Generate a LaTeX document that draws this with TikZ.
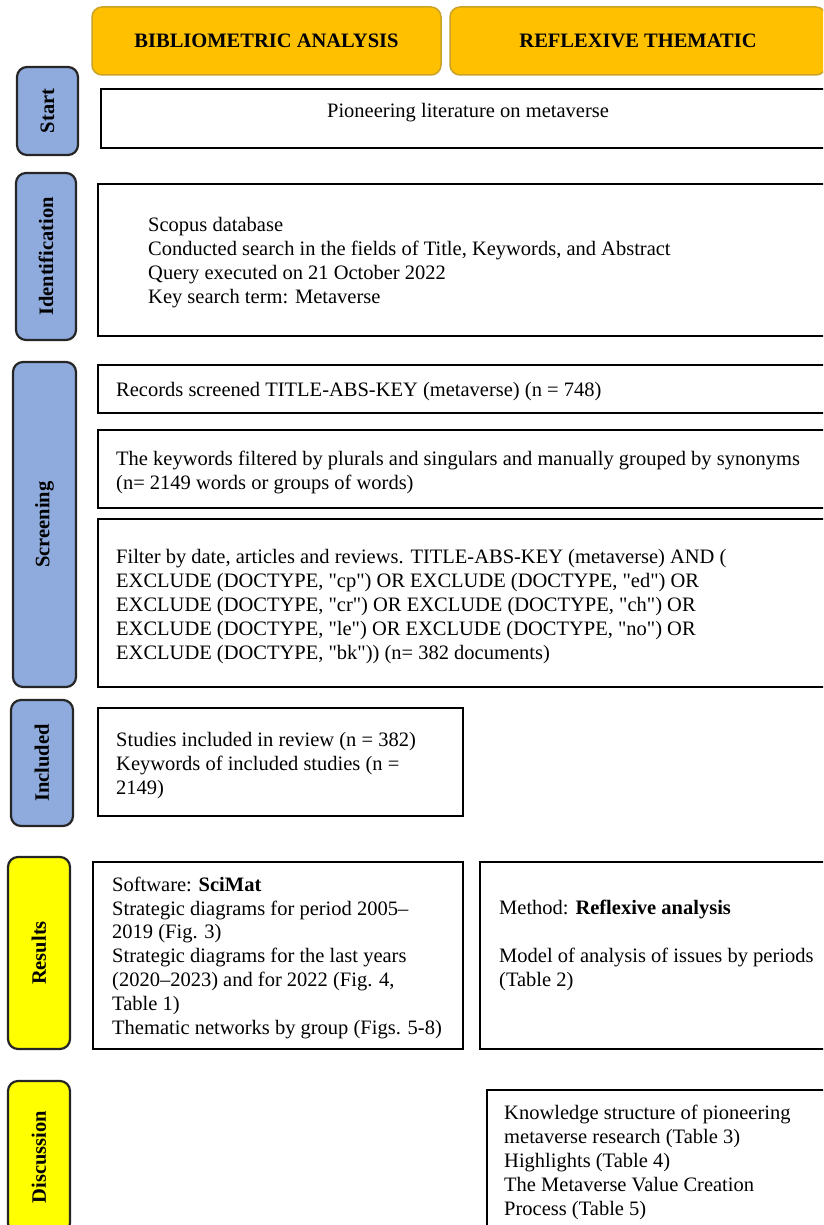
\documentclass[tikz,border=0pt]{standalone}
\usepackage{fontspec}
\setmainfont{Liberation Serif}[Ligatures=TeXOff]
\usetikzlibrary{positioning}

\definecolor{headgold}{HTML}{FFC000}
\definecolor{headedge}{HTML}{C9A227}
\definecolor{tabblue}{HTML}{8FAADC}
\definecolor{tabyellow}{HTML}{FFFF00}

\tikzset{
  head/.style={draw=headedge, fill=headgold, line width=1.5pt, rounded corners=10pt, font=\bfseries, inner sep=0pt},
  phase/.style={draw=black!85, line width=2.2pt, rounded corners=10pt, rotate=90, font=\bfseries, inner sep=0pt},
  stepbox/.style={draw=black, line width=1.8pt, inner sep=0pt},
  txt/.style={anchor=base west, align=left, inner sep=0pt}
}

\begin{document}
\fontsize{20.5}{23.8}\selectfont
\begin{tikzpicture}[x=1pt, y=-1pt]
        \clip (0,0) rectangle (823,1225);

        % Column headers
        \node[head, minimum width=349, minimum height=68] (biblio) at (266.5,41) {BIBLIOMETRIC ANALYSIS};
        \node[head, minimum width=376, minimum height=68] (reflex) at (638,41) {REFLEXIVE THEMATIC};

        % Phase tabs
        \node[phase, fill=tabblue, minimum width=88, minimum height=61] (start) at (47.5,111) {Start};
        \node[phase, fill=tabblue, minimum width=167, minimum height=60] (ident) at (46,256.5) {Identification};
        \node[phase, fill=tabblue, minimum width=325, minimum height=63] (screen) at (44.5,524.5) {Screening};
        \node[phase, fill=tabblue, minimum width=126, minimum height=62] (incl) at (42,763) {Included};
        \node[phase, fill=tabyellow, minimum width=192, minimum height=62] (results) at (39,953) {Results};
        \node[phase, fill=tabyellow, minimum width=152, minimum height=62] (discuss) at (39,1157) {Discussion};

        % Step boxes
        \node[stepbox, minimum width=739, minimum height=59] (startbox) at (470.5,118.5) {};
        \node[stepbox, minimum width=742, minimum height=152] (identbox) at (469,260) {};
        \node[stepbox, minimum width=742, minimum height=48] (recbox) at (469,389) {};
        \node[stepbox, minimum width=742, minimum height=78] (kwbox) at (469,469) {};
        \node[stepbox, minimum width=742, minimum height=168] (filtbox) at (469,603) {};
        \node[stepbox, minimum width=365, minimum height=108] (inclbox) at (280.5,762) {};
        \node[stepbox, minimum width=370, minimum height=187] (resbox) at (278,955.5) {};
        \node[stepbox, minimum width=360, minimum height=187] (methbox) at (660,955.5) {};
        \node[stepbox, minimum width=353, minimum height=150] (discbox) at (663.5,1165) {};

        % Box texts (anchored at the baseline of the last line)
        \node[anchor=base, inner sep=0pt] (starttxt) at (468,118) {Pioneering literature on metaverse};
        \node[txt] (identtxt) at (148,303) {Scopus database\\
          Conducted search in the fields of Title, Keywords, and Abstract\\
          Query executed on 21 October 2022\\
          Key search term: Metaverse};
        \node[txt] (rectxt) at (116,396) {Records screened TITLE-ABS-KEY (metaverse) (n = 748)};
        \node[txt] (kwtxt) at (116,489) {The keywords filtered by plurals and singulars and manually grouped by synonyms\\
          (n= 2149 words or groups of words)};
        \node[txt] (filttxt) at (116,659) {Filter by date, articles and reviews. TITLE-ABS-KEY (metaverse) AND (\\
          EXCLUDE (DOCTYPE, "cp") OR EXCLUDE (DOCTYPE, "ed") OR\\
          EXCLUDE (DOCTYPE, "cr") OR EXCLUDE (DOCTYPE, "ch") OR\\
          EXCLUDE (DOCTYPE, "le") OR EXCLUDE (DOCTYPE, "no") OR\\
          EXCLUDE (DOCTYPE, "bk")) (n= 382 documents)};
        \node[txt] (incltxt) at (116,794) {Studies included in review (n = 382)\\
          Keywords of included studies (n =\\
          2149)};
        \node[txt] (restxt) at (112,1034) {Software: \textbf{SciMat}\\
          Strategic diagrams for period 2005–\\
          2019 (Fig. 3)\\
          Strategic diagrams for the last years\\
          (2020–2023) and for 2022 (Fig. 4,\\
          Table 1)\\
          Thematic networks by group (Figs. 5-8)};
        \node[txt] (methtxt) at (499,986) {Method: \textbf{Reflexive analysis}\\[23.8pt]
          Model of analysis of issues by periods\\
          (Table 2)};
        \node[txt] (disctxt) at (504,1215) {Knowledge structure of pioneering\\
          metaverse research (Table 3)\\
          Highlights (Table 4)\\
          The Metaverse Value Creation\\
          Process (Table 5)};
\end{tikzpicture}
\end{document}
